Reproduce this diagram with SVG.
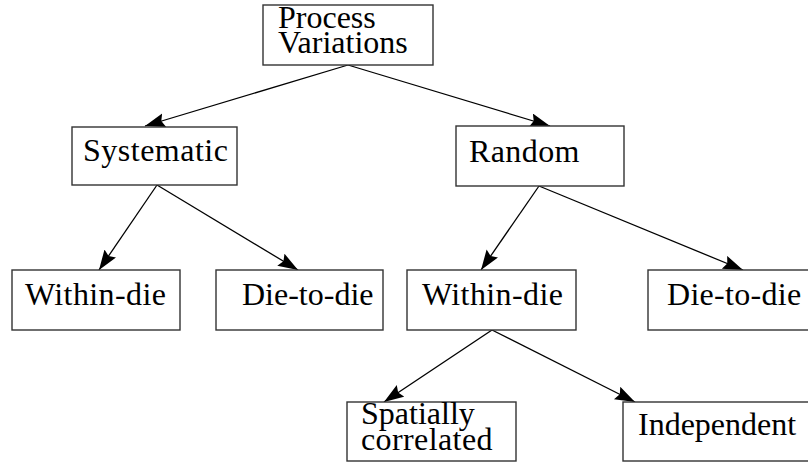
<svg xmlns="http://www.w3.org/2000/svg" width="808" height="462" viewBox="0 0 808 462">
  <defs>
    <marker id="arrow" markerUnits="userSpaceOnUse" markerWidth="22" markerHeight="16" refX="20" refY="7" orient="auto">
      <path d="M0,0 L20,7 L0,14 L3,7 Z" fill="#000"/>
    </marker>
    <style>
      .box { fill: #fff; stroke: #333; stroke-width: 1.4; }
      .edge { stroke: #000; stroke-width: 1.3; fill: none; marker-end: url(#arrow); }
      .lbl { font-family: "Liberation Serif", serif; font-size: 32px; fill: #000; }
    </style>
  </defs>
  <rect width="808" height="462" fill="#fff"/>

  <g id="connectors">
    <line class="edge" x1="348" y1="65" x2="145" y2="126"/>
    <line class="edge" x1="348" y1="65" x2="550" y2="126"/>
    <line class="edge" x1="157" y1="185" x2="99" y2="270"/>
    <line class="edge" x1="157" y1="185" x2="298" y2="270"/>
    <line class="edge" x1="539" y1="186" x2="481" y2="270"/>
    <line class="edge" x1="539" y1="186" x2="743" y2="270"/>
    <line class="edge" x1="492" y1="330" x2="384" y2="402"/>
    <line class="edge" x1="492" y1="330" x2="635" y2="402"/>
  </g>

  <g id="process-variations">
    <rect class="box" x="263" y="5" width="170" height="60"/>
    <text class="lbl" x="278" y="28">Process</text>
    <text class="lbl" x="278" y="53">Variations</text>
  </g>

  <g id="systematic">
    <rect class="box" x="72" y="127" width="165" height="58"/>
    <text class="lbl" letter-spacing="0.5" x="83" y="161">Systematic</text>
  </g>

  <g id="random">
    <rect class="box" x="456" y="126" width="168" height="60"/>
    <text class="lbl" letter-spacing="0.4" x="469" y="162">Random</text>
  </g>

  <g id="systematic-within-die">
    <rect class="box" x="12" y="270" width="168" height="60"/>
    <text class="lbl" letter-spacing="0.4" x="25" y="305">Within-die</text>
  </g>

  <g id="systematic-die-to-die">
    <rect class="box" x="216" y="270" width="167" height="60"/>
    <text class="lbl" x="242" y="305">Die-to-die</text>
  </g>

  <g id="random-within-die">
    <rect class="box" x="407" y="270" width="169" height="60"/>
    <text class="lbl" letter-spacing="0.4" x="422" y="305">Within-die</text>
  </g>

  <g id="random-die-to-die">
    <rect class="box" x="648" y="270" width="170" height="60"/>
    <text class="lbl" letter-spacing="0.3" x="667" y="305">Die-to-die</text>
  </g>

  <g id="spatially-correlated">
    <rect class="box" x="347" y="402" width="169" height="59"/>
    <text class="lbl" x="361" y="424">Spatially</text>
    <text class="lbl" letter-spacing="0.4" x="361" y="450">correlated</text>
  </g>

  <g id="independent">
    <rect class="box" x="623" y="402" width="195" height="59"/>
    <text class="lbl" x="638" y="435">Independent</text>
  </g>
</svg>
